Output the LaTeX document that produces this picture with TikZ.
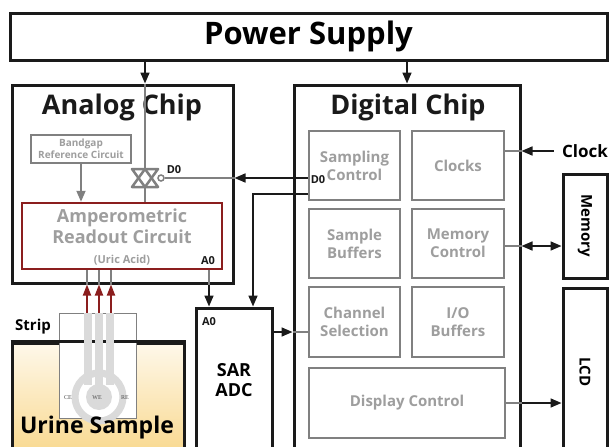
\documentclass[tikz,border=0pt]{standalone}
\usepackage{fontspec}
\setmainfont{Open Sans}
\newfontfamily\elfont{Liberation Serif}
\usepackage{tikz}
\usetikzlibrary{arrows.meta, positioning}
\definecolor{chipdark}{HTML}{1A1A1A}
\definecolor{blockgray}{HTML}{808080}
\definecolor{blocktext}{HTML}{9E9E9E}
\definecolor{readoutred}{HTML}{8B1E1E}
\definecolor{electrode}{HTML}{DADADA}
\definecolor{urinetop}{HTML}{FEF8EA}
\definecolor{urinebot}{HTML}{F8D37F}
\newcommand{\fsz}[2]{\fontsize{#1}{#2}\selectfont}
\tikzset{
  chip/.style={draw=chipdark, line width=3pt, fill=white, inner sep=0pt},
  block/.style={draw=blockgray, line width=2.5pt, fill=white, align=center,
                text=blocktext, font=\bfseries\fsz{15}{18}, inner sep=0pt},
  title/.style={font=\bfseries\fsz{27}{30}, text=chipdark},
  tag/.style={font=\bfseries\fsz{11}{12}, text=chipdark, inner sep=1pt},
  wire/.style={line width=1.8pt, draw=blockgray},
  gate/.style={line width=2.5pt, draw=blockgray, line join=round},
  bus/.style={line width=1.6pt, draw=chipdark, -{Triangle[length=11pt, width=9pt]}},
  sense/.style={line width=1.8pt, draw=readoutred, -{Triangle[length=11pt, width=8pt]}},
  trace/.style={draw=electrode, line width=8pt},
}

\begin{document}
\begin{tikzpicture}[x=1pt, y=-1pt]
  \clip (0,0) rectangle (611,447);
  \fill[white] (0,0) rectangle (611,447);
  % supply and chips
  \node[chip, minimum width=597, minimum height=47, font=\bfseries\fsz{31}{34}] (power) at (308.5,36.5) {Power Supply};
  \node[chip, minimum width=221, minimum height=198] (analog) at (122.5,184) {};
  \node[chip, minimum width=226, minimum height=380] (digital) at (407,275) {};
  \node[title] (analogtitle) at (122,107) {Analog Chip};
  \node[title] (digitaltitle) at (408,107) {Digital Chip};
  \coordinate (tg) at (145,178);
  \draw[bus] (power.south -| tg) -- (analog.north -| tg);
  \draw[bus] (power.south -| digital.north) -- (digital.north);

  % analog side
  \node[block, line width=2pt, font=\bfseries\fsz{10}{12}, minimum width=100, minimum height=28] (bandgap) at (81,149) {Bandgap\\Reference Circuit};
  \node[block, draw=readoutred, minimum width=200, minimum height=66] (amp) at (122,236) {};
  \node[align=center, text=blocktext, font=\bfseries\fsz{18}{21}] (amptext) at (122,226) {Amperometric\\Readout Circuit};
  \node[text=blocktext, font=\bfseries\fsz{11}{12}] (uric) at (122,260) {(Uric Acid)};
  \node[tag] (ampa0) at (208,261) {A0};
  \draw[wire, -{Triangle[length=11pt, width=9pt]}] (bandgap.south) -- (bandgap.south |- amp.north);
  \draw[wire] (analog.north -| tg) -- (amp.north -| tg);
  % transmission gate
  \draw[gate, fill=white] ([shift={(-13,-9)}]tg) -- ([shift={(13,-9)}]tg) -- ([shift={(0,9)}]tg) -- cycle;
  \draw[gate] ([shift={(-13,9)}]tg) -- ([shift={(13,9)}]tg) -- ([shift={(0,-9)}]tg) -- cycle;
  \node[circle, draw=blockgray, line width=1.5pt, fill=white, minimum size=6pt, inner sep=0pt] (tgbub) at ([shift={(16,0)}]tg) {};
  \node[tag] (gated0) at (174,170) {D0};

  % urine sample and strip
  \node[chip, top color=urinetop, bottom color=urinebot, minimum width=172, minimum height=130] (urine) at (98,408) {};
  \node[draw=blockgray, line width=1pt, fill=white, minimum width=77, minimum height=105] (strip) at (97.5,365.5) {};
  \draw[chipdark, line width=3pt] (urine.north west) -- (urine.north east);
  \coordinate (we) at (99,397);
  \foreach \ex in {88,99,110}
    \draw[trace] (strip.north -| \ex,0) -- (\ex,385);
  \draw[electrode, line width=7pt] (we) circle[radius=24];
  \fill[electrode] (we) circle[radius=13];
  \node[font=\elfont\fsz{6}{7}, text=black!70] (ce) at (68,398) {CE};
  \node[font=\elfont\fsz{6}{7}, text=black!70] (welbl) at (97,398) {WE};
  \node[font=\elfont\fsz{6}{7}, text=black!70] (re) at (125,398) {RE};
  \node[font=\bfseries\fsz{15}{18}] (striplbl) at (33,327) {Strip};
  \node[font=\bfseries\fsz{23}{26}] (urinelbl) at (97,428) {Urine Sample};
  \foreach \ex in {87,99,111} {
    \draw[wire, line width=1.5pt] (amp.south -| \ex,0) -- (analog.south -| \ex,0);
    \draw[sense] (strip.north -| \ex,0) -- (analog.south -| \ex,0);
  }

  % converter
  \node[chip, minimum width=76, minimum height=170] (sar) at (234,393) {};
  \node[align=center, font=\bfseries\fsz{18}{20}] (sartext) at (234,380) {SAR\\ADC};
  \node[tag] (sara0) at (209,322) {A0};
  \coordinate (ampout) at ([xshift=87pt]amp.south);
  \draw[wire] (ampout) -- (ampout |- analog.south);
  \draw[bus] (ampout |- analog.south) -- (ampout |- sar.north);

  % digital blocks
  \node[block, minimum width=91, minimum height=69] (sampctl) at (354.5,165.5) {Sampling\\Control};
  \node[block, minimum width=92, minimum height=69] (clocks) at (458,165.5) {Clocks};
  \node[block, minimum width=91, minimum height=69] (sampbuf) at (354.5,243.5) {Sample\\Buffers};
  \node[block, minimum width=92, minimum height=69] (memctl) at (458,243.5) {Memory\\Control};
  \node[block, minimum width=91, minimum height=70] (chansel) at (354.5,322) {Channel\\Selection};
  \node[block, minimum width=92, minimum height=70] (iobuf) at (458,322) {I/O\\Buffers};
  \node[block, minimum width=196, minimum height=70] (dispctl) at (407,403) {Display Control};
  \node[tag] (ctld0) at (318,180) {D0};

  % control lines
  \draw[wire, line width=1.5pt] (sampctl.west |- tg) -- (digital.west |- tg);
  \draw[bus] (sampctl.west |- tg) -- (analog.east |- tg);
  \draw[wire, line width=1.5pt] (analog.east |- tg) -- (tgbub.east);
  \draw[bus] ([yshift=-28.5pt]sampctl.west) -| ([xshift=19pt]sar.north);
  \draw[wire, line width=1.5pt] ([yshift=-10pt]chansel.west) -- ([yshift=-10pt]chansel.west -| digital.west);
  \draw[bus] ([yshift=-10pt]chansel.west -| sar.east) -- ([yshift=-10pt]chansel.west -| digital.west);

  % off-chip parts
  \node[font=\bfseries\fsz{17}{20}, inner sep=0pt] (clk) at (585,151) {Clock};
  \node[chip, minimum width=44, minimum height=104] (memory) at (585,226) {};
  \node[rotate=-90, font=\bfseries\fsz{15}{18}] (memlbl) at (memory) {Memory};
  \node[chip, minimum width=44, minimum height=182] (lcd) at (585,379) {};
  \node[rotate=-90, font=\bfseries\fsz{15}{18}] (lcdlbl) at (585,372) {LCD};
  \draw[wire, line width=1.5pt] (clocks.east |- clk) -- (digital.east |- clk);
  \draw[bus] ([xshift=-8pt]clk.west) -- (digital.east |- clk);
  \draw[wire, line width=1.5pt] ([yshift=-2.5pt]memctl.east) -- ([yshift=-2.5pt]memctl.east -| digital.east);
  \draw[bus, {Triangle[length=11pt, width=9pt]}-{Triangle[length=11pt, width=9pt]}] ([yshift=-2.5pt]memctl.east -| digital.east) -- ([yshift=-2.5pt]memctl.east -| memory.west);
  \draw[wire, line width=1.5pt] (dispctl.east) -- (dispctl.east -| digital.east);
  \draw[bus] (dispctl.east -| digital.east) -- (dispctl.east -| lcd.west);
\end{tikzpicture}
\end{document}
